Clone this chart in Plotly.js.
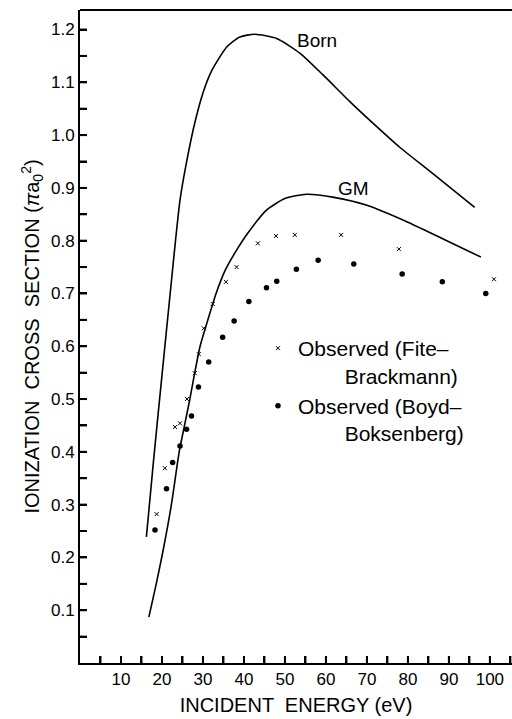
<!DOCTYPE html>
<html>
<head>
<meta charset="utf-8">
<script src="https://cdn.plot.ly/plotly-3.0.1.min.js"></script>
<style>html,body{margin:0;padding:0;background:#fff;}#chart{width:512px;height:719px;}</style>
</head>
<body>
<div id="chart"></div>
<script>
// Born approximation curve
var bornE = [16.2, 17.9, 20.0, 22.0, 23.3, 24.4, 26.1, 28.0, 30.0, 32.2, 35.8, 39.0, 42.7, 48.0, 53.7, 59.3, 65.9, 72.4, 78.0, 86.1, 96.3];
var bornS = [0.239, 0.38, 0.545, 0.70, 0.80, 0.877, 0.953, 1.023, 1.08, 1.123, 1.167, 1.186, 1.191, 1.183, 1.155, 1.114, 1.063, 1.016, 0.977, 0.927, 0.863];
// GM curve
var gmE = [16.8, 18.6, 20.3, 22.3, 24.2, 25.5, 26.8, 28.0, 29.3, 31.0, 33.2, 35.5, 38.2, 41.0, 45.5, 50.0, 55.3, 62.0, 70.0, 80.0, 89.5, 97.8];
var gmS = [0.087, 0.15, 0.214, 0.30, 0.40, 0.45, 0.50, 0.55, 0.60, 0.645, 0.70, 0.745, 0.782, 0.815, 0.858, 0.880, 0.888, 0.882, 0.867, 0.835, 0.80, 0.769];
// Observed (Fite-Brackmann)
var fiteE = [18.7, 20.7, 23.2, 24.4, 26.1, 28.0, 29.0, 30.2, 32.4, 35.6, 38.2, 43.4, 47.8, 52.4, 63.7, 77.8, 101.0];
var fiteS = [0.282, 0.369, 0.447, 0.454, 0.50, 0.549, 0.585, 0.634, 0.68, 0.722, 0.75, 0.795, 0.809, 0.811, 0.811, 0.784, 0.727];
// Observed (Boyd-Boksenberg)
var boydE = [18.3, 21.1, 22.6, 24.4, 26.0, 27.2, 28.9, 31.4, 34.8, 37.6, 41.2, 45.5, 48.0, 52.8, 58.1, 66.8, 78.6, 88.4, 99.0];
var boydS = [0.252, 0.33, 0.38, 0.411, 0.443, 0.468, 0.523, 0.570, 0.617, 0.648, 0.685, 0.711, 0.723, 0.746, 0.763, 0.756, 0.737, 0.722, 0.700];

// tick labels
var xTickVals = [5, 10, 15, 20, 25, 30, 35, 40, 45, 50, 55, 60, 65, 70, 75, 80, 85, 90, 95, 100, 105];
var xTickText = ['', '10', '', '20', '', '30', '', '40', '', '50', '', '60', '', '70', '', '80', '', '90', '', '100', ''];
var yTickVals = [0.05, 0.1, 0.15, 0.2, 0.25, 0.3, 0.35, 0.4, 0.45, 0.5, 0.55, 0.6, 0.65, 0.7, 0.75, 0.8, 0.85, 0.9, 0.95, 1.0, 1.05, 1.1, 1.15, 1.2];
var yTickText = ['', '0.1', '', '0.2', '', '0.3', '', '0.4', '', '0.5', '', '0.6', '', '0.7', '', '0.8', '', '0.9', '', '1.0', '', '1.1', '', '1.2'];

var FONT = 'Liberation Sans, Arial, sans-serif';
var IND = '\u00a0\u00a0\u00a0\u00a0\u00a0\u00a0\u00a0\u00a0';

var traces = [
  {x: bornE, y: bornS, mode: 'lines', line: {color: '#000', width: 1.6, shape: 'spline', smoothing: 0.6}, showlegend: false, hoverinfo: 'skip'},
  {x: gmE, y: gmS, mode: 'lines', line: {color: '#000', width: 1.6, shape: 'spline', smoothing: 0.6}, showlegend: false, hoverinfo: 'skip'},
  {x: fiteE, y: fiteS, mode: 'markers', name: 'Observed (Fite\u2013<br>' + IND + 'Brackmann)',
   marker: {symbol: 'x-thin', size: 4, color: '#000', line: {color: '#000', width: 1}}},
  {x: boydE, y: boydS, mode: 'markers', name: 'Observed (Boyd\u2013<br>' + IND + 'Boksenberg)',
   marker: {symbol: 'circle', size: 5.5, color: '#000'}}
];

// inside tick marks, anchored to the axes with pixel lengths
var tickShapes = [];
xTickVals.forEach(function (v) {
  tickShapes.push({type: 'line', xref: 'x', yref: 'paper', ysizemode: 'pixel', yanchor: 0,
    x0: v, x1: v, y0: 0, y1: 7, line: {color: '#000', width: 2}});
});
yTickVals.forEach(function (v) {
  tickShapes.push({type: 'line', xref: 'paper', yref: 'y', xsizemode: 'pixel', xanchor: 0,
    y0: v, y1: v, x0: 0, x1: 7, line: {color: '#000', width: 2}});
});
tickShapes.push({type: 'line', xref: 'paper', yref: 'paper', x0: 0, x1: 1, y0: 1, y1: 1, line: {color: '#000', width: 2}});

var layout = {
  width: 512, height: 719,
  margin: {l: 80, r: 0, t: 10, b: 56},
  paper_bgcolor: '#fff', plot_bgcolor: '#fff',
  font: {family: FONT, color: '#000'},
  showlegend: true,
  legend: {x: 0.412, y: 0.513, xanchor: 'left', yanchor: 'top', bgcolor: 'rgba(0,0,0,0)',
           font: {size: 21, family: FONT, color: '#000'}, valign: 'top', tracegroupgap: 0},
  xaxis: {
    range: [0, 105.4], showgrid: false, zeroline: false,
    showline: true, linecolor: '#000', linewidth: 2,
    ticks: 'inside', ticklen: 7, tickwidth: 2, tickcolor: '#000',
    tickmode: 'array', tickvals: xTickVals, ticktext: xTickText,
    tickfont: {size: 17, family: FONT},
    title: {text: 'INCIDENT  ENERGY (eV)', font: {size: 20, family: FONT}, standoff: 10}
  },
  yaxis: {
    range: [0, 1.237], showgrid: false, zeroline: false,
    showline: true, linecolor: '#000', linewidth: 2,
    ticks: 'inside', ticklen: 7, tickwidth: 2, tickcolor: '#000',
    tickmode: 'array', tickvals: yTickVals, ticktext: yTickText,
    tickfont: {size: 17, family: FONT},
    title: {text: 'IONIZATION  CROSS  SECTION (<i>\u03c0</i>a<sub>0</sub><sup>2</sup>)', font: {size: 20, family: FONT}, standoff: 6}
  },
  shapes: tickShapes,
  annotations: [
    {text: 'Born', x: 52.5, y: 1.155, xref: 'x', yref: 'y', xanchor: 'left', yanchor: 'bottom', showarrow: false, font: {size: 19, family: FONT}},
    {text: 'GM', x: 62.5, y: 0.875, xref: 'x', yref: 'y', xanchor: 'left', yanchor: 'bottom', showarrow: false, font: {size: 19, family: FONT}},
    {text: '0', x: -1.8, y: 0, xref: 'x', yref: 'y', xanchor: 'center', yanchor: 'top', yshift: 0, showarrow: false, font: {size: 17, family: FONT}}
  ]
};

Plotly.newPlot('chart', traces, layout, {displayModeBar: false, staticPlot: true});
</script>
</body>
</html>
